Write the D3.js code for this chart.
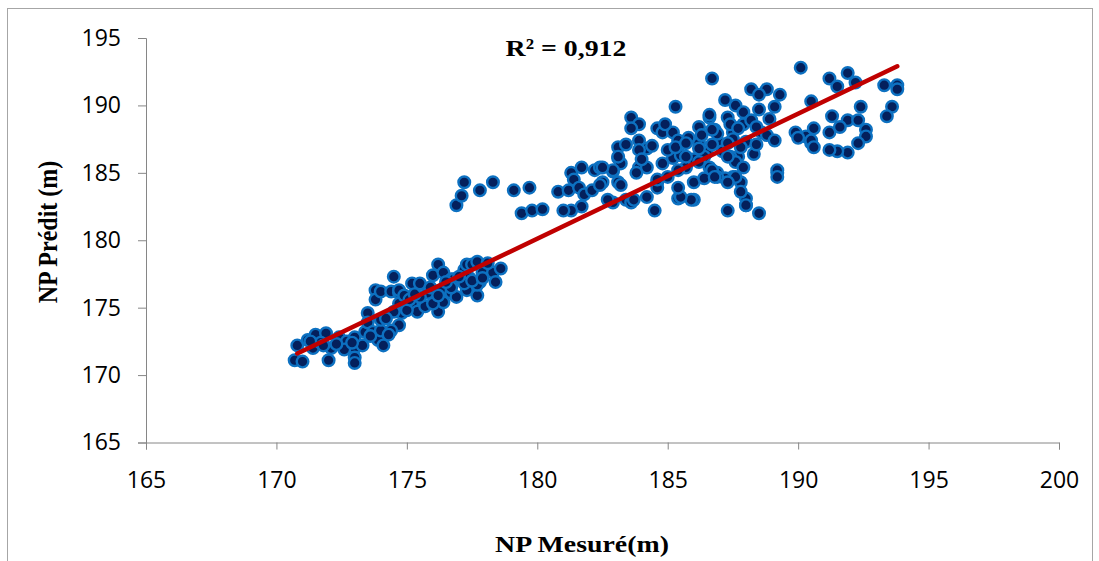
<html>
<head>
<meta charset="utf-8">
<script src="https://d3js.org/d3.v7.min.js"></script>
<style>
body { margin: 0; background: #fff; }
.axis path, .axis line { stroke: #868686; stroke-width: 1px; }
.axis text { font-family: "Open Sans", sans-serif; font-size: 23px; fill: #000; }
.title { font-family: "Liberation Serif", "Times New Roman", serif; font-weight: bold; fill: #000; }
.pt { fill: #04205c; stroke: #0d71c1; stroke-width: 2.4px; }
.trend { fill: none; stroke: #c00000; stroke-width: 4.5px; stroke-linecap: round; }
</style>
</head>
<body>
<svg id="chart" width="1099" height="561"></svg>
<script>
var mesure = [
 170.8,170.7,171.0,171.2,171.5,171.4,171.9,172.1,172.0,172.4,172.7,173.0,173.0,173.0,173.0,
 173.4,173.5,173.5,173.7,173.9,174.0,174.0,174.1,173.8,173.8,174.0,174.4,174.5,174.7,174.7,
 174.8,174.7,175.2,175.2,175.4,174.7,175.5,176.0,176.2,176.4,176.7,176.3,175.8,175.7,176.2,
 175.0,176.7,176.8,177.2,177.3,177.5,177.7,177.9,178.3,178.6,178.4,177.7,177.3,177.4,177.8,
 176.9,176.4,176.7,176.0,175.5,177.7,177.2,178.1,171.7,172.6,173.3,174.4,174.5,174.2,174.9,
 171.3,171.8,172.3,172.9,173.6,174.3,175.1,175.9,176.5,177.0,177.5,177.9,176.2,175.3,
 177.2,176.9,177.1,177.8,178.3,179.1,179.7,179.4,179.8,180.2,180.8,181.3,181.4,181.2,181.6,
 181.8,181.7,182.2,182.4,182.9,183.1,183.2,182.5,182.1,181.7,181.3,181.0,183.1,182.9,183.4,
 183.9,183.2,183.6,184.5,184.2,184.6,185.4,186.0,187.3,188.0,188.5,187.8,187.5,189.2,187.7,
 185.3,183.6,183.9,183.6,184.6,184.8,185.2,185.4,183.1,183.4,183.9,184.2,183.9,183.1,182.9,
 182.5,182.4,182.7,183.7,184.6,185.0,185.2,185.5,185.7,186.0,185.9,185.5,186.2,186.6,186.8,
 187.2,187.3,187.0,187.4,186.9,187.2,186.6,186.5,186.2,187.5,185.4,184.8,184.2,183.8,184.6,
 185.4,
 184.0,184.4,185.0,185.8,186.3,186.9,187.5,188.0,188.3,187.1,186.0,185.3,184.9,187.9,188.6,
 188.9,186.4,187.6,
 186.7,190.1,188.2,188.8,188.5,189.3,189.1,187.6,187.9,188.5,186.6,186.7,187.4,187.7,188.2,
 188.4,188.8,189.1,188.4,187.8,187.3,186.7,186.2,185.7,185.7,186.2,186.7,187.3,187.9,187.6,
 189.2,189.9,190.3,190.5,190.6,190.5,186.9,186.4,187.3,
 191.2,191.9,191.5,192.2,193.3,193.8,193.8,193.6,193.4,192.4,191.3,191.9,192.3,192.6,192.6,
 192.3,191.9,191.5,191.2,191.2,191.6,190.0,190.5,190.6,189.2,188.0,188.0,187.8,186.8
];
var predit = [
 172.2,171.1,171.0,172.6,173.0,172.0,173.1,172.0,171.1,172.8,172.5,172.8,172.0,171.3,170.9,
 173.2,174.6,173.9,173.2,172.6,173.3,174.1,172.2,176.3,175.6,176.2,176.2,177.3,176.1,175.3,
 174.6,173.7,176.8,175.3,174.7,176.3,176.8,177.4,178.2,177.6,177.1,176.3,176.1,175.1,174.7,
 174.8,176.1,177.1,177.8,178.2,178.2,178.4,177.6,177.6,177.9,176.9,175.9,176.3,177.2,176.9,
 175.8,175.4,176.5,175.3,175.8,176.7,176.8,178.3,172.4,171.9,172.2,173.3,174.7,174.2,175.9,
 172.5,172.2,172.3,172.4,172.9,173.0,175.6,176.5,176.9,177.3,177.0,177.2,175.9,176.0,
 184.3,182.6,183.3,183.7,184.3,183.7,183.9,182.0,182.2,182.3,183.6,185.0,184.5,183.7,183.9,
 183.4,185.4,185.2,185.4,185.1,186.1,185.7,184.3,183.7,182.5,182.2,182.2,184.3,182.8,183.0,
 185.4,184.1,182.8,182.2,183.2,184.3,183.1,183.0,182.2,182.6,182.0,184.3,184.7,185.0,186.2,
 189.9,189.1,188.6,188.3,188.3,188.0,188.0,187.4,186.9,187.1,187.4,186.8,186.7,186.2,185.2,
 185.4,184.1,183.0,183.0,183.9,184.7,186.1,186.3,185.4,184.3,183.0,183.2,188.4,189.1,188.2,
 190.4,189.1,187.2,186.2,185.0,184.6,185.4,186.5,187.2,188.0,185.2,185.7,185.4,185.0,184.5,
 183.9,
 186.0,187.0,186.7,187.6,187.8,187.9,187.5,187.3,186.4,186.6,186.0,186.9,188.6,188.6,188.0,
 189.0,186.2,185.8,
 192.0,192.8,191.2,191.2,190.8,190.8,189.9,190.0,189.5,189.7,189.3,188.2,188.6,188.3,188.9,
 188.4,187.8,187.4,187.1,186.9,187.2,187.1,186.8,187.2,186.2,185.8,185.2,186.2,185.4,184.7,
 185.2,188.0,187.7,187.2,188.3,190.3,184.7,184.6,184.3,
 192.0,192.4,191.4,191.7,191.5,191.5,191.2,189.9,189.2,189.9,189.2,188.9,188.9,188.2,187.7,
 187.2,186.5,186.6,186.7,188.0,188.4,187.6,187.4,186.9,184.7,183.1,182.6,183.6,184.7
];
var xTicks = [165, 170, 175, 180, 185, 190, 195, 200];
var yTicks = [165, 170, 175, 180, 185, 190, 195];
// regression line ends (R² = 0,912)
var trendX = [170.8, 193.8];
var trendY = [171.6, 192.9];

var svg = d3.select('#chart');

// outer frame
svg.append('rect')
    .attr('x', 7.5).attr('y', 8.5)
    .attr('width', 1085).attr('height', 600)
    .attr('fill', 'none').attr('stroke', '#a6a6a6');

var x = d3.scaleLinear().domain([165, 200]).range([146, 1059]);
var y = d3.scaleLinear().domain([165, 195]).range([442.5, 38]);

svg.append('g')
    .attr('class', 'axis')
    .attr('transform', 'translate(0,' + y(165) + ')')
    .call(d3.axisBottom(x).tickValues(xTicks).tickSize(7).tickPadding(22));

svg.append('g')
    .attr('class', 'axis')
    .attr('transform', 'translate(' + x(165) + ',0)')
    .call(d3.axisLeft(y).tickValues(yTicks).tickSize(8).tickPadding(17));

var pts = mesure.map(function(d, i) { return {x: d, y: predit[i]}; });

svg.append('g').selectAll('circle')
    .data(pts)
    .enter().append('circle')
    .attr('class', 'pt')
    .attr('cx', function(d) { return x(d.x); })
    .attr('cy', function(d) { return y(d.y); })
    .attr('r', 5.8);

var line = d3.line()
    .x(function(d) { return x(d.x); })
    .y(function(d) { return y(d.y); });

svg.append('path')
    .datum(trendX.map(function(d, i) { return {x: d, y: trendY[i]}; }))
    .attr('class', 'trend')
    .attr('d', line);

// texts
svg.append('text')
    .attr('class', 'title')
    .attr('transform', 'translate(566,56) scale(1.16,1)')
    .attr('text-anchor', 'middle')
    .style('font-size', '24px')
    .text('R² = 0,912');

svg.append('text')
    .attr('class', 'title')
    .attr('transform', 'translate(582,552) scale(1.16,1)')
    .attr('text-anchor', 'middle')
    .style('font-size', '24px')
    .text('NP Mesuré(m)');

svg.append('text')
    .attr('class', 'title')
    .attr('transform', 'translate(57,232) scale(1.16,1) rotate(-90)')
    .attr('text-anchor', 'middle')
    .style('font-size', '24px')
    .text('NP Prédit (m)');
</script>
</body>
</html>
